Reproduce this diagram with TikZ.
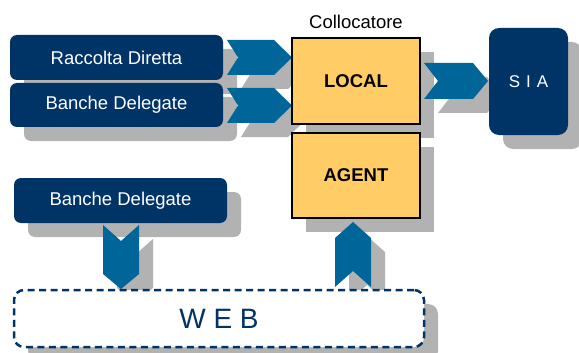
\documentclass[tikz,border=0pt]{standalone}
\usepackage{fontspec}
\setmainfont{Liberation Sans}
\usetikzlibrary{shadows}
\definecolor{navy}{HTML}{003366}
\definecolor{chevblue}{HTML}{006699}
\definecolor{shgray}{HTML}{B2B2B2}
\definecolor{ylw}{HTML}{FFCC66}
\tikzset{
  shd/.style={drop shadow={shadow xshift=14pt,shadow yshift=-14pt,fill=shgray,opacity=1}},
  navybox/.style={shd,fill=navy,rounded corners=7pt,text=white,inner sep=0pt,font=\fontsize{18.5}{20}\selectfont},
  ybox/.style={shd,fill=ylw,draw=black,line width=1.3pt,inner sep=0pt,minimum width=128pt,font=\fontsize{18.5}{20}\selectfont\bfseries},
  chev/.style={shd,fill=chevblue},
}
\begin{document}
\begin{tikzpicture}[x=1pt,y=-1pt]
\useasboundingbox (0,0) rectangle (579,353);
% left boxes
\node[navybox,minimum width=213pt,minimum height=45pt] (rd) at (116.5,57.5) {Raccolta Diretta};
\node[navybox,minimum width=213pt,minimum height=44pt] (bd1) at (116.5,105) {Banche Delegate};
\node[navybox,minimum width=213pt,minimum height=45pt] (bd2) at (120.5,200.5) {Banche Delegate};
% chevrons into LOCAL
\fill[chev] (227,40)--(274,40)--(292,57.5)--(274,75)--(227,75)--(238,57.5)--cycle;
\fill[chev] (227,88)--(274,88)--(292,105.5)--(274,123)--(227,123)--(238,105.5)--cycle;
% collocatore
\node[font=\fontsize{18.5}{20}\selectfont] (coll) at (356,22) {Collocatore};
\node[ybox,minimum height=86pt] (local) at (356,81) {LOCAL};
\node[ybox,minimum height=85pt] (agent) at (356,175.5) {AGENT};
% chevron to SIA
\fill[chev] (424,63)--(473,63)--(488,81)--(473,99)--(424,99)--(438,81)--cycle;
\node[navybox,rounded corners=10pt,minimum width=79pt,minimum height=107pt,font=\fontsize{17}{20}\selectfont] (sia) at (528.5,81.5) {S\hspace{6pt}I\hspace{6pt}A};
% vertical chevrons
\fill[chev] (103,225)--(121,241)--(139,225)--(139,274)--(121,289)--(103,274)--cycle;
\fill[chev] (335,238)--(353,222)--(371,238)--(371,287)--(353,271)--(335,287)--cycle;
% WEB
\node[shd,fill=white,draw=navy,line width=2.5pt,dash pattern=on 7pt off 4.5pt,rounded corners=10pt,minimum width=410pt,minimum height=57pt,text=navy,font=\fontsize{28}{30}\selectfont] (web) at (219,318.5) {W E B};
\end{tikzpicture}
\end{document}
